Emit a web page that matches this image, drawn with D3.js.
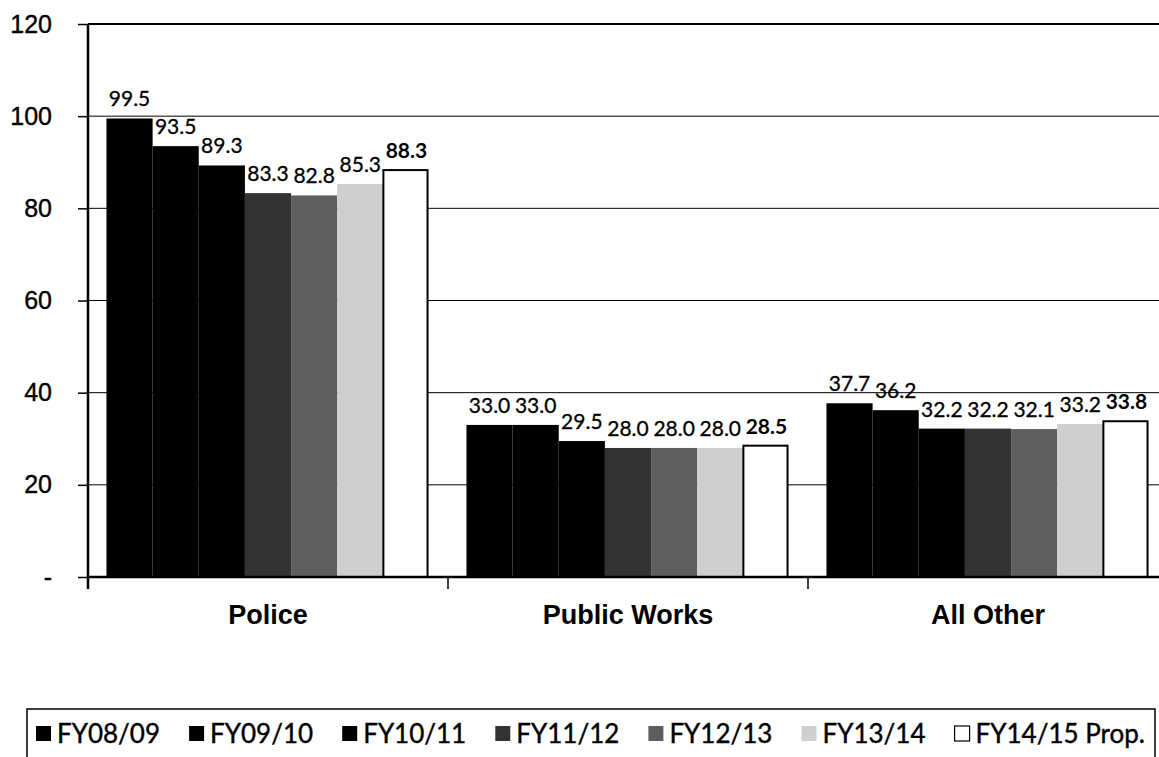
<!DOCTYPE html>
<html>
<head>
<meta charset="utf-8">
<script src="https://cdn.jsdelivr.net/npm/d3@7"></script>
<style>
  body { margin: 0; background: #fff; overflow: hidden; }
  svg { font-family: Lato, "Open Sans", sans-serif; }
</style>
</head>
<body>
<div id="chart"></div>
<script>
const categories = ['Police', 'Public Works', 'All Other'];
const seriesNames = ['FY08/09', 'FY09/10', 'FY10/11', 'FY11/12', 'FY12/13', 'FY13/14', 'FY14/15 Prop.'];
const police = [99.5, 93.5, 89.3, 83.3, 82.8, 85.3, 88.3];
const publicWorks = [33.0, 33.0, 29.5, 28.0, 28.0, 28.0, 28.5];
const allOther = [37.7, 36.2, 32.2, 32.2, 32.1, 33.2, 33.8];
const yTicks = [0, 20, 40, 60, 80, 100, 120];

const seriesColors = ['#000', '#000', '#000', '#333', '#5e5e5e', '#cfcfcf', '#fff'];
const valuesByCategory = [police, publicWorks, allOther];

const width = 1159, height = 757;
const margin = { top: 24, left: 88, bottom: 180 };
const plotRight = 1168;

const svg = d3.select('#chart').append('svg')
  .attr('width', width)
  .attr('height', height);

const x0 = d3.scaleBand()
  .domain(categories)
  .range([margin.left, plotRight])
  .padding(0);

const x1 = d3.scaleBand()
  .domain(seriesNames)
  .range([0, x0.bandwidth()])
  .paddingInner(0)
  .paddingOuter(0.4);

const y = d3.scaleLinear()
  .domain([0, 120])
  .range([height - margin.bottom, margin.top]);

// gridlines
svg.append('g')
  .selectAll('line')
  .data(yTicks.filter(d => d > 0))
  .enter()
  .append('line')
  .attr('x1', margin.left)
  .attr('x2', plotRight)
  .attr('y1', d => y(d))
  .attr('y2', d => y(d))
  .attr('stroke', '#000')
  .attr('stroke-width', d => d === 120 ? 2 : 1);

// bars
const groups = svg.append('g')
  .selectAll('g')
  .data(categories)
  .enter()
  .append('g')
  .attr('transform', d => `translate(${x0(d)},0)`);

const barData = (d, i) => valuesByCategory[i].map((v, j) => ({ name: seriesNames[j], value: v, idx: j }));

groups.selectAll('rect')
  .data(barData)
  .enter()
  .append('rect')
  .attr('x', d => x1(d.name))
  .attr('y', d => y(d.value))
  .attr('width', d => d.idx === 6 ? x1.bandwidth() - 2 : x1.bandwidth())
  .attr('height', d => y(0) - y(d.value))
  .attr('fill', (d) => seriesColors[d.idx])
  .attr('stroke', d => d.idx === 6 ? '#000' : 'none')
  .attr('stroke-width', 2);

groups.selectAll('text')
  .data(barData)
  .enter()
  .append('text')
  .text(d => d.value.toFixed(1))
  .attr('x', d => x1(d.name) + x1.bandwidth() / 2)
  .attr('y', d => y(d.value) - 12)
  .attr('text-anchor', 'middle')
  .attr('font-size', 21)
  .attr('font-weight', d => d.idx === 6 ? 'bold' : 'normal')
  .attr('stroke', '#000')
  .attr('stroke-width', d => d.idx === 6 ? 0 : 0.3)
  .attr('fill', '#000');

// y axis
const yAxis = d3.axisLeft(y)
  .tickValues(yTicks)
  .tickSize(10)
  .tickPadding(36)
  .tickFormat(d => d === 0 ? '-' : d);

svg.append('g')
  .attr('class', 'y-axis')
  .attr('transform', `translate(${margin.left},0)`)
  .call(yAxis);

// x axis
const xAxis = d3.axisBottom(x0)
  .tickSize(0)
  .tickPadding(28);

svg.append('g')
  .attr('class', 'x-axis')
  .attr('transform', `translate(0,${y(0)})`)
  .call(xAxis);

// category boundary ticks
svg.append('g')
  .selectAll('line')
  .data(categories)
  .enter()
  .append('line')
  .attr('x1', d => x0(d))
  .attr('x2', d => x0(d))
  .attr('y1', y(0))
  .attr('y2', y(0) + 12)
  .attr('stroke', '#000')
  .attr('stroke-width', 1.5);

d3.selectAll('.y-axis path, .x-axis path').attr('stroke', '#000').attr('stroke-width', 2.5);
d3.selectAll('.y-axis line').attr('stroke', '#000').attr('stroke-width', 1.5);
d3.selectAll('.y-axis text').attr('fill', '#000').attr('font-size', 25)
  .attr('stroke', '#000').attr('stroke-width', 0.4)
  .attr('text-anchor', 'end').attr('x', -36);
d3.selectAll('.x-axis text').attr('fill', '#000').attr('font-size', 27).attr('font-weight', 'bold');
d3.select('.y-axis .domain').attr('d', `M0,${y(120)}V${y(0) + 12}`);
d3.select('.x-axis .domain').attr('d', `M${margin.left},0H${plotRight}`);

// legend
const legendBox = { left: 27, right: 1155, top: 709 };
const legend = svg.append('g');
legend.append('rect')
  .attr('x', legendBox.left)
  .attr('y', legendBox.top)
  .attr('width', legendBox.right - legendBox.left)
  .attr('height', 60)
  .attr('fill', 'none')
  .attr('stroke', '#000')
  .attr('stroke-width', 1.5);

const items = legend.selectAll('g.item')
  .data(seriesNames)
  .enter()
  .append('g')
  .attr('class', 'item');

items.append('rect')
  .attr('x', 0)
  .attr('y', -9)
  .attr('width', 15)
  .attr('height', 15)
  .attr('fill', (d, i) => seriesColors[i])
  .attr('stroke', (d, i) => i === 6 ? '#000' : 'none')
  .attr('stroke-width', 1.2);

items.append('text')
  .text(d => d)
  .attr('x', 21)
  .attr('y', 8)
  .attr('font-size', 26)
  .attr('stroke', '#000')
  .attr('stroke-width', 0.4)
  .attr('fill', '#000');

// spread legend entries evenly inside the box
const widths = [];
items.each(function () { widths.push(this.getBBox().width); });
const startX = legendBox.left + 9;
const endX = legendBox.right - 10;
const gap = (endX - startX - d3.sum(widths)) / (widths.length - 1);
let cursor = startX;
items.attr('transform', (d, i) => {
  const t = `translate(${cursor},735)`;
  cursor += widths[i] + gap;
  return t;
});
</script>
</body>
</html>
